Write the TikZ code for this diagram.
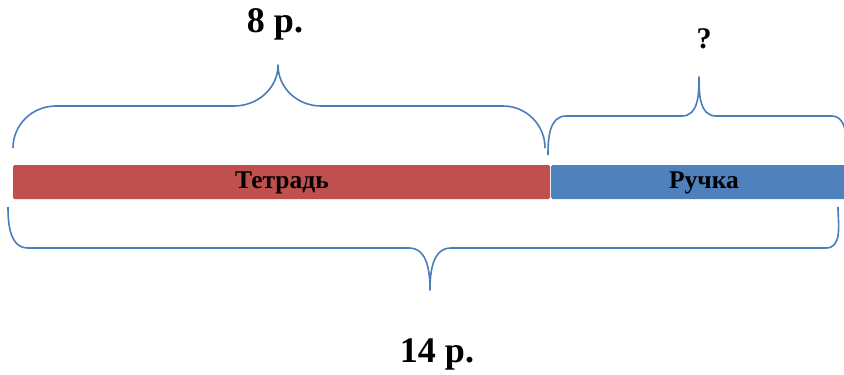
\documentclass[tikz,border=0pt]{standalone}
\usepackage{fontspec}
\setmainfont{Liberation Serif}
\definecolor{barred}{HTML}{C0504D}
\definecolor{barblue}{HTML}{4F81BD}
\definecolor{braceblue}{HTML}{4A7EBB}
\begin{document}
\begin{tikzpicture}[x=1pt,y=1pt,
  bracestyle/.style={draw=braceblue,line width=1.6pt,line join=round},
  bar/.style={rounded corners=1.5pt,draw=none},
  bigtxt/.style={font=\fontsize{36}{40}\selectfont\bfseries,inner sep=0pt},
  bartxt/.style={font=\fontsize{25.5}{29}\selectfont\bfseries,inner sep=0pt}]
\useasboundingbox (0,0) rectangle (844,-375);
% bars
\fill[barred,bar] (13,-165) rectangle (550,-199);
\fill[barblue,bar] (551,-165) rectangle (846,-199);
\node[bartxt] (tetrad) at (282,-183) {Тетрадь};
\node[bartxt] (ruchka) at (704,-183) {Ручка};
% top-left brace
\draw[bracestyle] (13,-148) to[out=90,in=180] (56,-106) -- (234,-106)
  to[out=0,in=-90] (278,-65) to[out=-90,in=180] (321,-106) -- (503,-106)
  to[out=0,in=90] (545,-148);
% top-right brace
\draw[bracestyle] (548,-155) to[out=90,in=180] (566,-116) -- (682,-116)
  to[out=0,in=-90] (699,-77) to[out=-90,in=180] (716,-116) -- (832,-116)
  to[out=0,in=90] (846,-140);
% bottom brace
\draw[bracestyle] (8,-207) to[out=-90,in=180] (28,-248) -- (409,-248)
  to[out=0,in=90] (430,-290) to[out=90,in=180] (451,-248) -- (826,-248)
  to[out=0,in=-90] (838,-207);
% labels
\node[bigtxt] (eight) at (275,-24) {8 р.};
\node[bigtxt,font=\fontsize{30}{34}\selectfont\bfseries] (q) at (704,-39) {?};
\node[bigtxt] (fourteen) at (437,-354) {14 р.};
\end{tikzpicture}
\end{document}
